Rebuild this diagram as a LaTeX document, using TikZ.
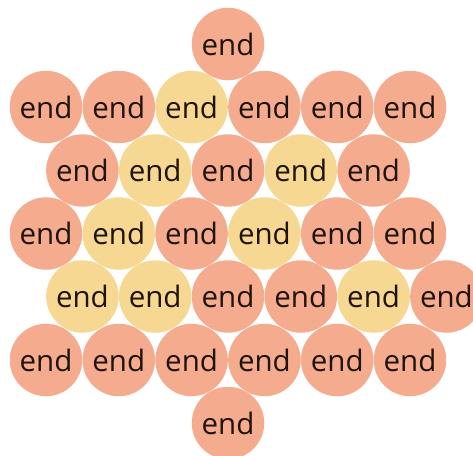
\documentclass[tikz,border=0pt]{standalone}
\usepackage{fontspec}
\setmainfont{Open Sans}
\usepackage{tikz}
\usetikzlibrary{positioning}
\definecolor{ballsalmon}{HTML}{F5AB8E}
\definecolor{ballyellow}{HTML}{F6D892}
\definecolor{endtext}{HTML}{1F130C}

\begin{document}
\begin{tikzpicture}[x=1pt,y=-1pt,
  ball/.style={circle,minimum size=72.5pt,inner sep=0pt,text=endtext,
    text depth=0pt,font=\fontsize{29.5}{30}\selectfont},
  sball/.style={ball,fill=ballsalmon},
  yball/.style={ball,fill=ballyellow}]
\useasboundingbox (0,0) rectangle (473,455);
\clip (0,0) rectangle (473,455);
% top
\node[sball] (t) at (228,44) {end};
% row 1
\node[sball] (a1) at (46,107) {end};
\node[sball] (a2) at (118.8,107) {end};
\node[yball] (a3) at (191.6,107) {end};
\node[sball] (a4) at (264.4,107) {end};
\node[sball] (a5) at (337.2,107) {end};
\node[sball] (a6) at (410,107) {end};
% row 2
\node[sball] (b1) at (82.4,170.5) {end};
\node[yball] (b2) at (155.2,170.5) {end};
\node[sball] (b3) at (228,170.5) {end};
\node[yball] (b4) at (300.8,170.5) {end};
\node[sball] (b5) at (373.6,170.5) {end};
% row 3
\node[sball] (c1) at (46,233.5) {end};
\node[yball] (c2) at (118.8,233.5) {end};
\node[sball] (c3) at (191.6,233.5) {end};
\node[yball] (c4) at (264.4,233.5) {end};
\node[sball] (c5) at (337.2,233.5) {end};
\node[sball] (c6) at (410,233.5) {end};
% row 4
\node[yball] (d1) at (82.4,296.5) {end};
\node[yball] (d2) at (155.2,296.5) {end};
\node[sball] (d3) at (228,296.5) {end};
\node[sball] (d4) at (300.8,296.5) {end};
\node[yball] (d5) at (373.6,296.5) {end};
\node[sball] (d6) at (446.4,296.5) {end};
% row 5
\node[sball] (e1) at (46,360) {end};
\node[sball] (e2) at (118.8,360) {end};
\node[sball] (e3) at (191.6,360) {end};
\node[sball] (e4) at (264.4,360) {end};
\node[sball] (e5) at (337.2,360) {end};
\node[sball] (e6) at (410,360) {end};
% bottom
\node[sball] (b) at (228,423) {end};
\end{tikzpicture}
\end{document}
